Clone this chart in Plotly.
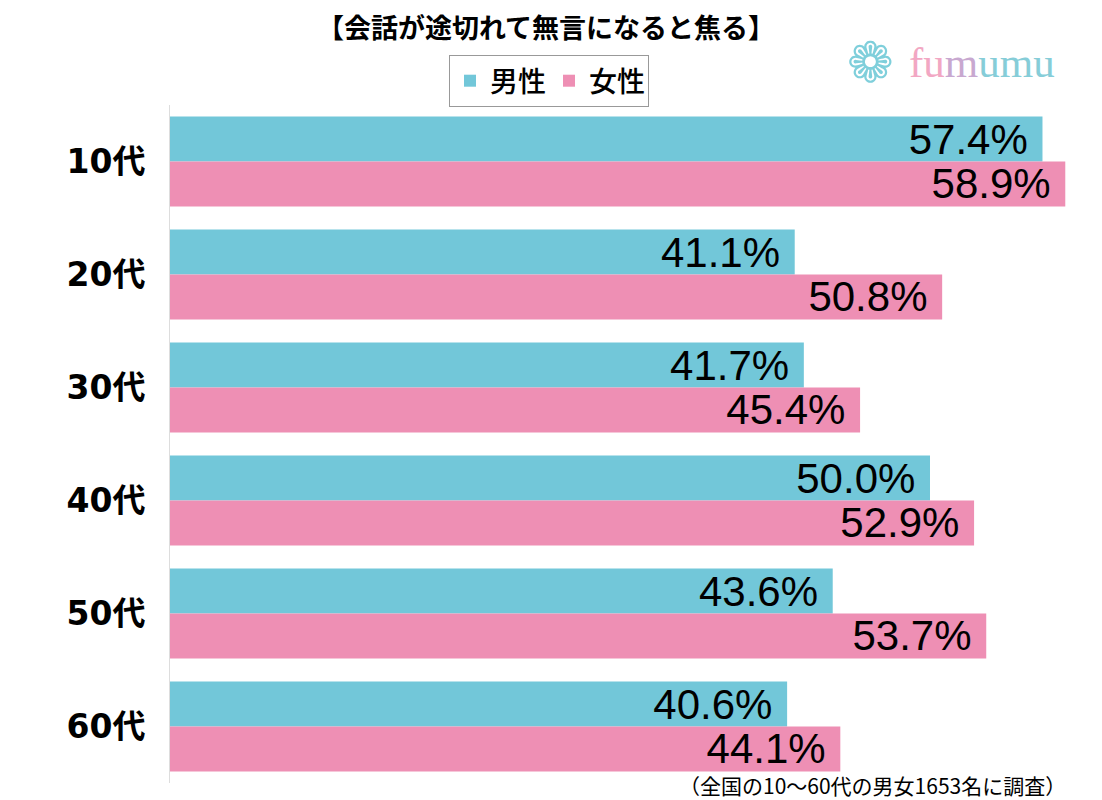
import plotly.graph_objects as go

categories = ["10代", "20代", "30代", "40代", "50代", "60代"]
male = [57.4, 41.1, 41.7, 50.0, 43.6, 40.6]
female = [58.9, 50.8, 45.4, 52.9, 53.7, 44.1]
series_names = ["男性", "女性"]
title_text = "【会話が途切れて無言になると焦る】"
footnote = "（全国の10～60代の男女1653名に調査）"

CYAN = "#72C7D9"
PINK = "#EE8FB4"
JP = "Noto Sans CJK JP"

W, H = 1094, 792          # page body has an 8px margin
ML, MR, MT, MB = 162, 20, 97, 17
PW, PH = W - ML - MR, H - MT - MB


def px_x(x):
    return (x - ML) / PW


def px_y(y):
    return (H - MB - y) / PH


def labels(vals):
    return [f"{v:.1f}%\u00a0" for v in vals]


fig = go.Figure()
for name, vals, col in [(series_names[0], male, CYAN), (series_names[1], female, PINK)]:
    fig.add_trace(go.Bar(
        y=categories, x=vals, name=name, orientation="h",
        marker=dict(color=col, line=dict(width=0)),
        text=labels(vals), textposition="inside", insidetextanchor="end",
        constraintext="none",
        textfont=dict(family="Liberation Sans, Arial", size=42, color="black"),
        hoverinfo="skip",
    ))

fig.update_layout(
    width=W, height=H,
    margin=dict(l=ML, r=MR, t=MT, b=MB, autoexpand=False),
    paper_bgcolor="white", plot_bgcolor="white",
    barmode="group", bargap=0.205, bargroupgap=0,
    showlegend=True,
    legend=dict(
        orientation="h", xref="container", yref="container",
        x=541 / W, y=1 - 73 / H, xanchor="center", yanchor="middle",
        font=dict(family=JP, size=28, color="black", weight=500),
        bordercolor="#999999", borderwidth=1, bgcolor="white",
        itemwidth=30, tracegroupgap=0,
        entrywidth=54, entrywidthmode="pixels",
    ),
    title=dict(
        text=title_text, xref="container", yref="container",
        x=538 / W, y=1 - 21 / H, xanchor="center", yanchor="middle",
        font=dict(family=JP, size=27, color="black", weight="bold"),
    ),
    xaxis=dict(range=[0, 60], visible=False, fixedrange=True),
    yaxis=dict(
        autorange="reversed", showline=True, linecolor="#DDDDDD", linewidth=1,
        showgrid=False, ticks="", ticklabelstandoff=17,
        tickfont=dict(family="DejaVu Sans, Noto Sans CJK JP", size=33, color="black", weight="bold"),
    ),
)

fig.add_annotation(
    xref="paper", yref="paper", x=px_x(1060), y=px_y(777), xanchor="right", yanchor="middle",
    text=footnote, showarrow=False,
    font=dict(family=JP, size=21, color="black"),
)

fig.add_annotation(
    xref="paper", yref="paper", x=px_x(862), y=px_y(55), xanchor="center", yanchor="middle",
    text="❁", showarrow=False, font=dict(family="DejaVu Sans", size=56, color="#7FCFDB"),
)
fig.add_annotation(
    xref="paper", yref="paper", x=px_x(899), y=px_y(55), xanchor="left", yanchor="middle",
    text="<span style='color:#F2A7C3'>fu</span><span style='color:#C8A8D0'>m</span><span style='color:#86CDD8'>umu</span>",
    showarrow=False, font=dict(family="Liberation Serif", size=43),
)

fig.write_html("out.html")
